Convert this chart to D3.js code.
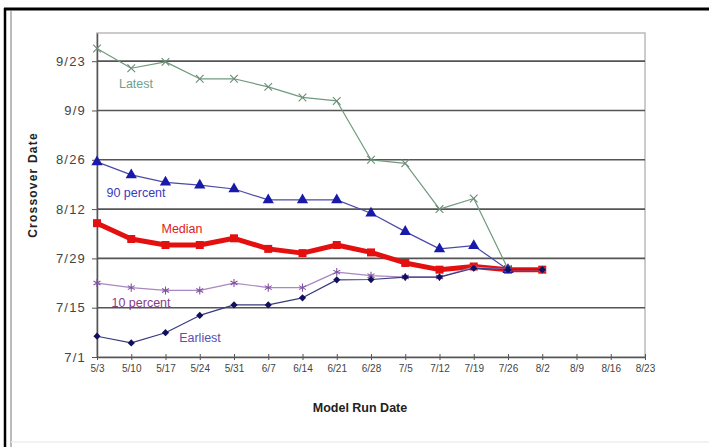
<!DOCTYPE html>
<html>
<head>
<meta charset="utf-8">
<script src="https://cdn.jsdelivr.net/npm/d3@7"></script>
<style>
  body { margin: 0; background: #fff; }
  svg { display: block; font-family: "Liberation Sans", Arial, sans-serif; }
</style>
</head>
<body>
<div id="chart"></div>
<script>
// model run dates (x) and crossover dates (y) given as days after July 1
var runDates = ["5/3", "5/10", "5/17", "5/24", "5/31", "6/7", "6/14", "6/21", "6/28", "7/5", "7/12", "7/19", "7/26", "8/2"];
var xTickLabels = ["5/3", "5/10", "5/17", "5/24", "5/31", "6/7", "6/14", "6/21", "6/28", "7/5", "7/12", "7/19", "7/26", "8/2", "8/9", "8/16", "8/23"];
var yTickLabels = ["7/1", "7/15", "7/29", "8/12", "8/26", "9/9", "9/23"];
var yMaxLabel = "10/1";

var latest   = [87.6, 82, 83.8, 79, 79, 76.7, 73.7, 72.7, 56, 55, 42, 45, 25];
var pct90    = [55.4, 51.7, 49.6, 48.8, 47.7, 44.6, 44.6, 44.6, 40.8, 35.6, 30.7, 31.6, 24.8];
var median   = [38, 33.5, 31.8, 31.8, 33.7, 30.7, 29.5, 31.8, 29.7, 26.7, 24.8, 25.7, 24.8, 24.8];
var pct10    = [21, 19.7, 18.9, 18.9, 21, 19.7, 19.7, 24.1, 23.1, 22.7, 22.7, 25.5, 24.8, 24.8];
var earliest = [5.9, 4, 6.9, 11.8, 14.8, 14.8, 16.8, 21.9, 22, 22.7, 22.7, 25.2, 24.8, 24.8];

var W = 709, H = 447;
var margin = { top: 33, right: 64, bottom: 90, left: 97 };
var width = W - margin.left - margin.right,
    height = H - margin.top - margin.bottom;

var parse = d3.timeParse("%m/%d");
var fmt = d3.timeFormat("%-m/%-d");
var jul1 = parse("7/1");
function dayDate(v) { return new Date(jul1.getTime() + v * 864e5); }

var x = d3.scaleTime()
  .domain([parse(xTickLabels[0]), parse(xTickLabels[xTickLabels.length - 1])])
  .range([0, width]);
var y = d3.scaleTime()
  .domain([parse(yTickLabels[0]), parse(yMaxLabel)])
  .range([height, 0]);

var svg = d3.select("#chart").append("svg")
  .attr("width", W).attr("height", H);

// outer frame
svg.append("line").attr("x1", 4).attr("x2", W).attr("y1", 9).attr("y2", 9)
  .attr("stroke", "#000").attr("stroke-width", 3);
svg.append("line").attr("x1", 5).attr("x2", 5).attr("y1", 8).attr("y2", H)
  .attr("stroke", "#000").attr("stroke-width", 2.5);
svg.append("line").attr("x1", 11).attr("x2", 11).attr("y1", 11).attr("y2", H)
  .attr("stroke", "#bbb").attr("stroke-width", 2);
svg.append("line").attr("x1", 11).attr("x2", W).attr("y1", 442).attr("y2", 442)
  .attr("stroke", "#eee").attr("stroke-width", 1.5);

var g = svg.append("g")
  .attr("transform", "translate(" + margin.left + "," + margin.top + ")");

// plot border
g.append("rect").attr("width", width).attr("height", height)
  .attr("fill", "none").attr("stroke", "#bbb").attr("stroke-width", 1.5);

// horizontal gridlines
g.selectAll(".grid").data(yTickLabels.slice(1)).enter().append("line")
  .attr("x1", 0).attr("x2", width)
  .attr("y1", function (d) { return y(parse(d)); })
  .attr("y2", function (d) { return y(parse(d)); })
  .attr("stroke", "#555").attr("stroke-width", 1.6);

// axes
var yAxis = g.append("g")
  .call(d3.axisLeft(y).tickValues(yTickLabels.map(parse)).tickFormat(fmt).tickSize(5).tickSizeOuter(0));
yAxis.select(".domain").attr("stroke", "#555").attr("stroke-width", 1.5);
yAxis.selectAll(".tick line").attr("stroke", "#555");
yAxis.selectAll(".tick text").attr("x", -11).attr("fill", "#444")
  .style("font-size", "13px").style("letter-spacing", "1.2px");

var xAxis = g.append("g")
  .attr("transform", "translate(0," + height + ")")
  .call(d3.axisBottom(x).tickValues(xTickLabels.map(parse)).tickFormat(fmt).tickSize(3).tickSizeOuter(0));
xAxis.select(".domain").attr("stroke", "#555").attr("stroke-width", 1.5);
xAxis.selectAll(".tick line").attr("stroke", "#555").attr("y1", -3);
xAxis.selectAll(".tick text").attr("y", 8).attr("fill", "#444").style("font-size", "10px");

// axis titles
svg.append("text")
  .attr("transform", "translate(37,185) rotate(-90)")
  .attr("text-anchor", "middle")
  .style("font-size", "12px").style("font-weight", "bold").style("letter-spacing", "1.2px")
  .attr("fill", "#222")
  .text("Crossover  Date");
svg.append("text")
  .attr("x", 360).attr("y", 412)
  .attr("text-anchor", "middle")
  .style("font-size", "12.5px").style("font-weight", "bold")
  .attr("fill", "#222")
  .text("Model Run Date");

var times = d3.symbolTimes || d3.symbolCross;
var aster = d3.symbolAsterisk || d3.symbolCross;

var series = [
  { name: "Median", values: median, line: "#e41010", lw: 5, sym: d3.symbolSquare, size: 64, fill: "#e41010", stroke: "none" },
  { name: "Latest", values: latest, line: "#6f9a7d", lw: 1.2, sym: times, size: 40, fill: "none", stroke: "#6d8a78" },
  { name: "90 percent", values: pct90, line: "#4a4aa8", lw: 1.2, sym: d3.symbolTriangle, size: 55, fill: "#1a1aaa", stroke: "none" },
  { name: "10 percent", values: pct10, line: "#a888c0", lw: 1.2, sym: aster, size: 45, fill: "none", stroke: "#8050a0" },
  { name: "Earliest", values: earliest, line: "#3a3a80", lw: 1.2, sym: d3.symbolSquare, size: 26, rot: 45, fill: "#10105e", stroke: "none" }
];

var line = d3.line()
  .x(function (d) { return x(d.date); })
  .y(function (d) { return y(d.value); });

series.forEach(function (s) {
  var pts = s.values.map(function (v, i) { return { date: parse(runDates[i]), value: dayDate(v) }; });
  g.append("path").datum(pts)
    .attr("fill", "none").attr("stroke", s.line).attr("stroke-width", s.lw)
    .attr("stroke-linejoin", "round")
    .attr("d", line);
  g.selectAll(null).data(pts).enter().append("path")
    .attr("transform", function (d) {
      return "translate(" + x(d.date) + "," + y(d.value) + ")" + (s.rot ? " rotate(" + s.rot + ")" : "");
    })
    .attr("d", d3.symbol().type(s.sym).size(s.size))
    .attr("fill", s.fill).attr("stroke", s.stroke).attr("stroke-width", 1.1);
});

// series labels
var labels = [
  { text: "Latest", x: 136, y: 88, color: "#6f9f88" },
  { text: "90 percent", x: 136, y: 197, color: "#3a3ac0" },
  { text: "Median", x: 182, y: 233, color: "#e02020" },
  { text: "10 percent", x: 141, y: 307, color: "#8a3a8a" },
  { text: "Earliest", x: 200, y: 342, color: "#5a50b0" }
];
svg.selectAll(".lab").data(labels).enter().append("text")
  .attr("x", function (d) { return d.x; })
  .attr("y", function (d) { return d.y; })
  .attr("text-anchor", "middle")
  .attr("fill", function (d) { return d.color; })
  .style("font-size", "12.5px")
  .text(function (d) { return d.text; });
</script>
</body>
</html>
